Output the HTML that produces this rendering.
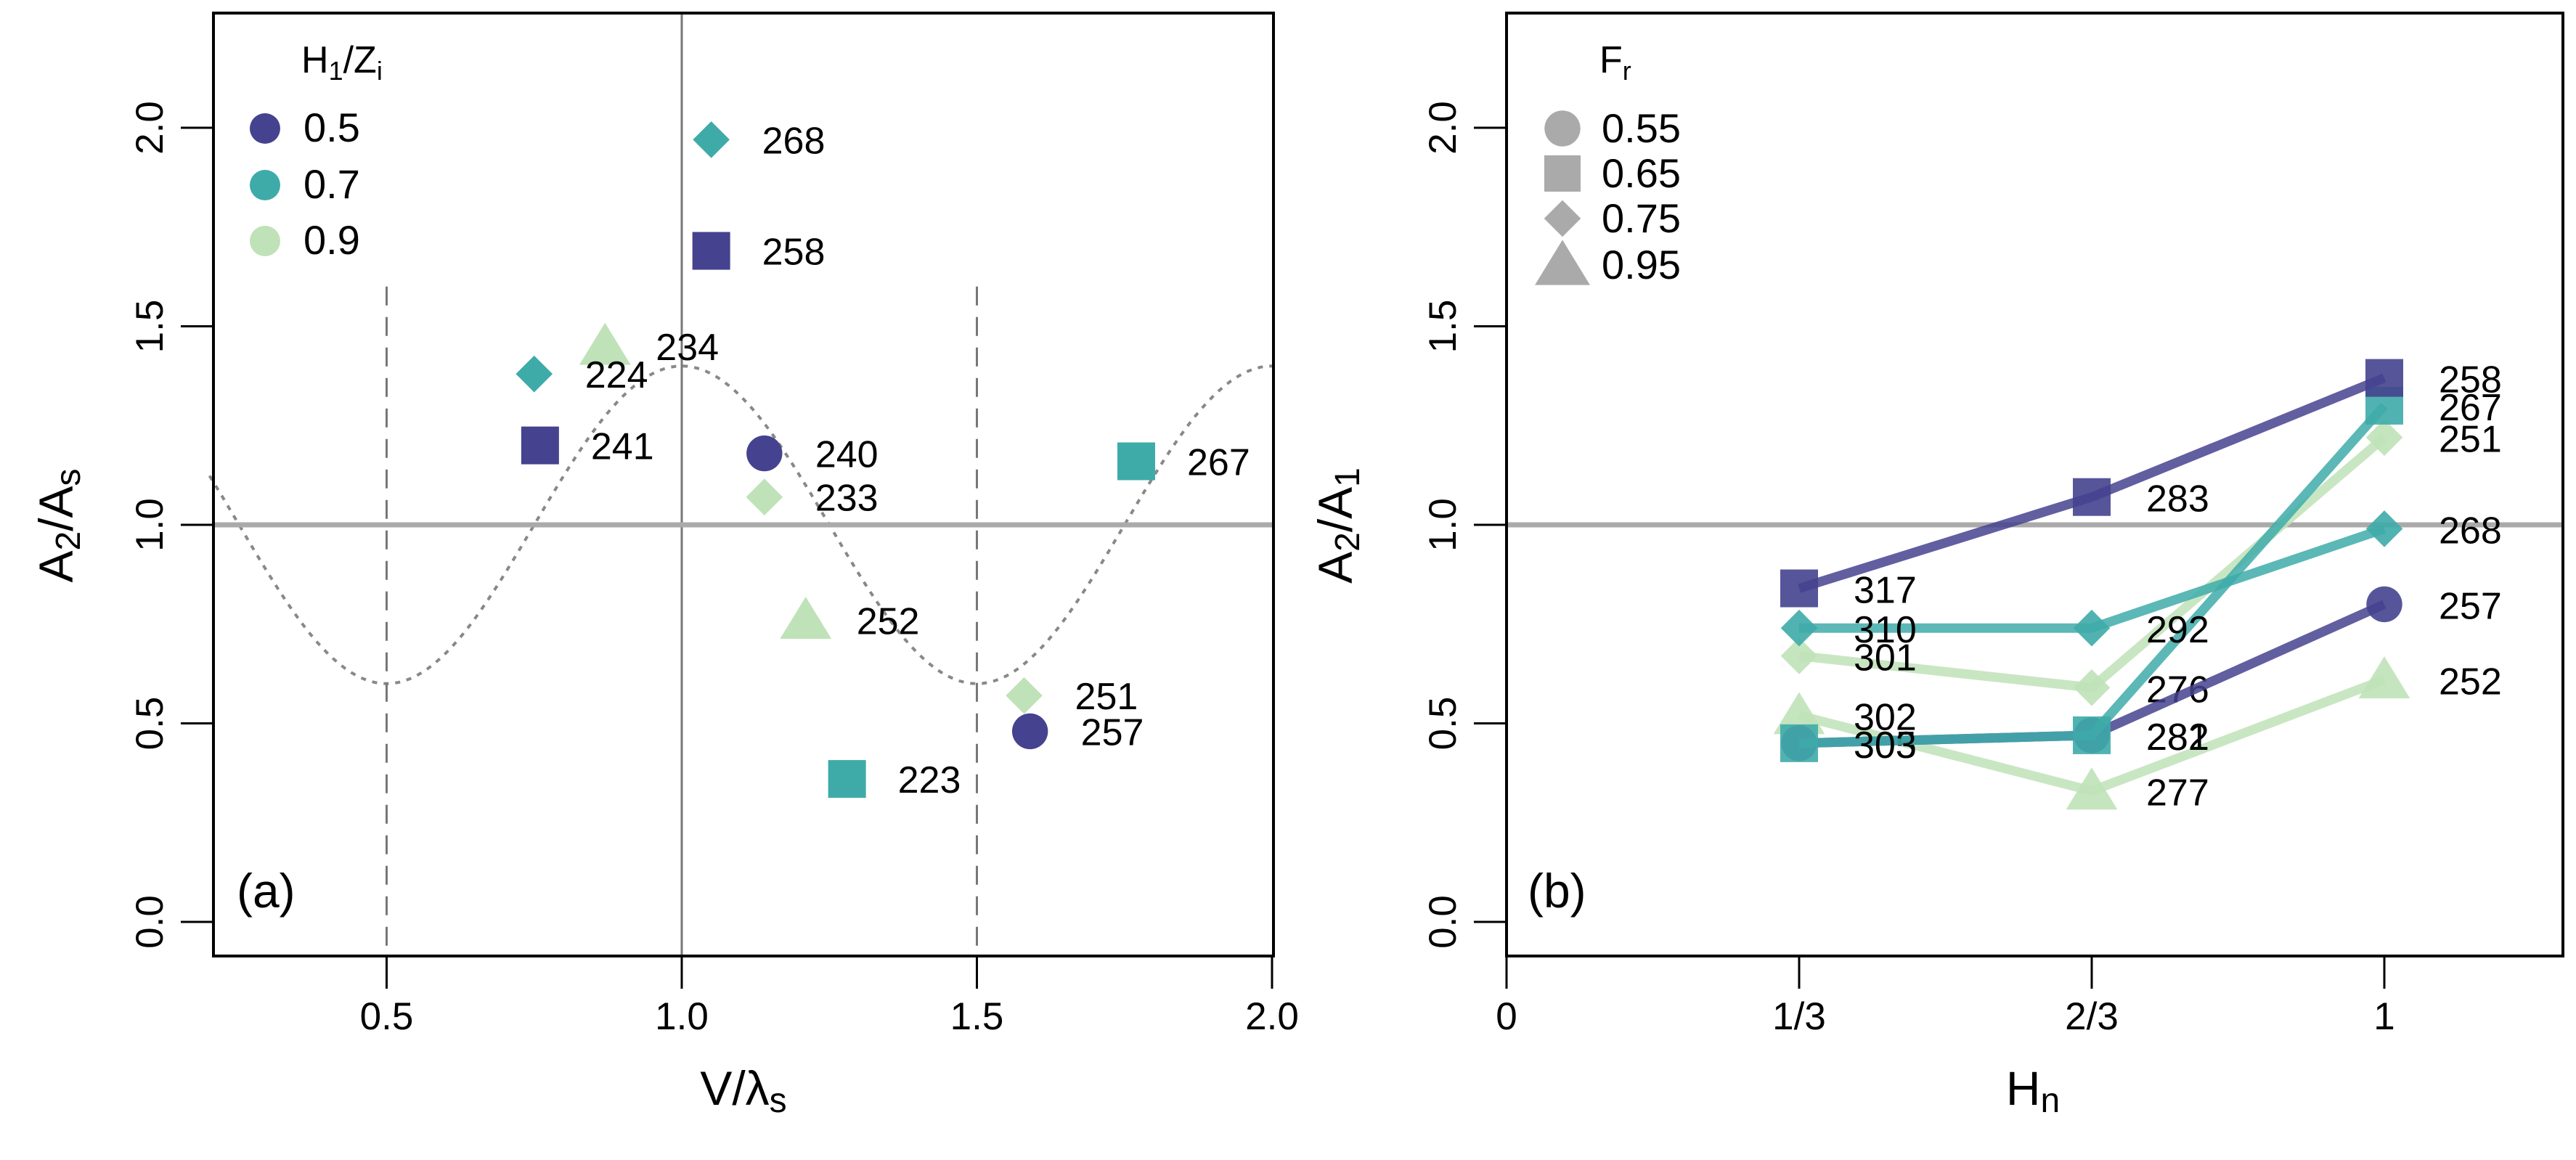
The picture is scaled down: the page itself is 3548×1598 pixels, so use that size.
<!DOCTYPE html>
<html><head><meta charset="utf-8"><style>
html,body{margin:0;padding:0;background:#fff}
svg{display:block;font-family:"Liberation Sans",Arial,sans-serif}
</style></head><body>
<svg id="fig" width="3548" height="1598" viewBox="0 0 3548 1598" xmlns="http://www.w3.org/2000/svg">
<g id="pa"></g>
<g id="pb"></g>
</svg>
<script>
// ---------- data ----------
const aX = [1.05, 1.05, 0.87, 0.75, 0.76, 1.14, 1.14, 1.77, 1.21, 1.58, 1.59, 1.28];
const aY = [1.97, 1.69, 1.45, 1.38, 1.20, 1.18, 1.07, 1.16, 0.76, 0.57, 0.48, 0.36];
const aLabels = ["268","258","234","224","241","240","233","267","252","251","257","223"];
const aShape = ["d","s","t","d","s","c","d","s","t","d","c","s"];
const aGroup = [1,0,2,1,0,0,2,1,2,2,0,1];
const xTicksA = [0.5, 1.0, 1.5, 2.0];
const xTickLabA = ["0.5","1.0","1.5","2.0"];
const yTicks = [0, 0.5, 1, 1.5, 2];
const yTickLab = ["0.0","0.5","1.0","1.5","2.0"];
const bX = [1/3, 2/3, 1];
const bXLab = ["0","1/3","2/3","1"];
const bNavySq = [0.84, 1.07, 1.37];
const bNavyCi = [0.45, 0.47, 0.80];
const bTealDi = [0.74, 0.74, 0.99];
const bTealSq = [0.45, 0.47, 1.30];
const bLightDi = [0.67, 0.59, 1.22];
const bLightTr = [0.52, 0.33, 0.61];
const bLabNavySq = ["317","283","258"];
const bLabNavyCi = ["305","281","257"];
const bLabTealDi = ["310","292","268"];
const bLabTealSq = ["303","282","267"];
const bLabLightDi = ["301","276","251"];
const bLabLightTr = ["302","277","252"];

const COLS = ["#45438f","#3eaba9","#bfe2b8"];
const NS = "http://www.w3.org/2000/svg";
function mk(parent, tag, attrs, txt){
  const e = document.createElementNS(NS, tag);
  for (const k in attrs) e.setAttribute(k, attrs[k]);
  if (txt !== undefined) e.textContent = txt;
  parent.appendChild(e); return e;
}
const TOPY = 18, BOTY = 1317;
const yS = v => 1270 - v*547;
const xA = v => 939 + (v-1)*813;
const xB = v => 2075 + v*1209;

function marker(g, shape, cx, cy, col, r, op){
  let e;
  if (shape==="c") e = mk(g,"circle",{cx:cx,cy:cy,r:r*0.95,fill:col});
  else if (shape==="s") e = mk(g,"rect",{x:cx-r,y:cy-r,width:2*r,height:2*r,fill:col});
  else if (shape==="d") { const d=r*1.15; e = mk(g,"polygon",{points:`${cx},${cy-d} ${cx+d},${cy} ${cx},${cy+d} ${cx-d},${cy}`,fill:col}); }
  else { const h=r*1.15; e = mk(g,"polygon",{points:`${cx},${cy-h} ${cx+h*1.1},${cy+h*0.8} ${cx-h*1.1},${cy+h*0.8}`,fill:col}); }
  if (op) e.setAttribute("fill-opacity", op);
  
  
  return e;
}
function yAxis(g, boxL){
  yTicks.forEach((t,i)=>{
    const y=yS(t);
    const l=mk(g,"line",{x1:boxL-45,y1:y,x2:boxL,y2:y,stroke:"#000","stroke-width":3});
    
    
    const tx=mk(g,"text",{x:boxL-70,y:y,"font-size":53,"text-anchor":"middle",transform:`rotate(-90 ${boxL-70} ${y})`},yTickLab[i]);
    
    
  });
}

// ---------- panel a ----------
(function(){
  const g=document.getElementById("pa");
  const L=294,R=1754;
  let d="";
  for(let x=0.2;x<=2.0001;x+=0.01){ d+=(d?"L":"M")+xA(x).toFixed(1)+","+yS(1+0.4*Math.cos(2*Math.PI*x)).toFixed(1); }
  const c=mk(g,"path",{d:d,fill:"none",stroke:"#888","stroke-width":4,"stroke-dasharray":"7 9"});
  
  
  [0.5,1.5].forEach(v=>{
    const l=mk(g,"line",{x1:xA(v),y1:yS(1.6),x2:xA(v),y2:BOTY,stroke:"#777","stroke-width":3,"stroke-dasharray":"26 16"});
    
    
  });
  const v1=mk(g,"line",{x1:xA(1),y1:TOPY,x2:xA(1),y2:BOTY,stroke:"#777","stroke-width":3});
  
  
  const h1=mk(g,"line",{x1:L,y1:yS(1),x2:R,y2:yS(1),stroke:"#aaa","stroke-width":7});
  
  
  aX.forEach((x,i)=>{
    const r = aShape[i]==="t"?28:(aShape[i]==="d"?22:26);
    marker(g,aShape[i],xA(x),yS(aY[i]),COLS[aGroup[i]],r);
    const t=mk(g,"text",{x:xA(x)+70,y:yS(aY[i])+19,"font-size":52},aLabels[i]);
    
    
  });
  const box=mk(g,"rect",{x:L,y:TOPY,width:R-L,height:BOTY-TOPY,fill:"none",stroke:"#000","stroke-width":4});
  
  
  yAxis(g,L);
  xTicksA.forEach((t,i)=>{
    const l=mk(g,"line",{x1:xA(t),y1:BOTY,x2:xA(t),y2:BOTY+45,stroke:"#000","stroke-width":3});
    
    
    const tx=mk(g,"text",{x:xA(t),y:1418,"font-size":53,"text-anchor":"middle"},xTickLabA[i]);
    
    
  });
  const xt=mk(g,"text",{x:1024,y:1522,"font-size":66,"text-anchor":"middle"});
  xt.innerHTML='V/λ<tspan font-size="48" dy="10">s</tspan>';
  
  
  const yt=mk(g,"text",{x:0,y:0,"font-size":66,"text-anchor":"middle",transform:"translate(100,724) rotate(-90)"});
  yt.innerHTML='A<tspan font-size="48" dy="10">2</tspan><tspan dy="-10">/A</tspan><tspan font-size="48" dy="10">s</tspan>';
  
  
  const pl=mk(g,"text",{x:326,y:1250,"font-size":66},"(a)");
  
  
  const lt=mk(g,"text",{x:415,y:100,"font-size":52});
  lt.innerHTML='H<tspan font-size="36" dy="10">1</tspan><tspan dy="-10">/Z</tspan><tspan font-size="36" dy="10">i</tspan>';
  
  
  ["0.5","0.7","0.9"].forEach((s,i)=>{
    const y=[195,273,350][i];
    const c=mk(g,"circle",{cx:365,cy:y-18,r:21,fill:COLS[i]});
    
    
    const t=mk(g,"text",{x:418,y:y,"font-size":56},s);
    
    
  });
})();

// ---------- panel b ----------
(function(){
  const g=document.getElementById("pb");
  const L=2075,R=3530;
  const h1=mk(g,"line",{x1:L,y1:yS(1),x2:R,y2:yS(1),stroke:"#aaa","stroke-width":7});
  
  
  const series=[
    [bLightTr,"t",2,bLabLightTr],[bLightDi,"d",2,bLabLightDi],
    [bNavyCi,"c",0,bLabNavyCi],[bTealSq,"s",1,bLabTealSq],
    [bTealDi,"d",1,bLabTealDi],[bNavySq,"s",0,bLabNavySq]
  ];
  series.forEach(([vals,sh,gi,labs])=>{
    const pts=vals.map((v,i)=>xB(bX[i])+","+yS(v)).join(" ");
    const pl=mk(g,"polyline",{points:pts,fill:"none",stroke:COLS[gi],"stroke-width":13,"stroke-opacity":0.85});
    
    
    vals.forEach((v,i)=>{
      marker(g,sh,xB(bX[i]),yS(v),COLS[gi],sh==="d"?22:(sh==="t"?28:26),0.9);
      const t=mk(g,"text",{x:xB(bX[i])+75,y:yS(v)+20,"font-size":52},labs[i]);
      
      
    });
  });
  const box=mk(g,"rect",{x:L,y:TOPY,width:R-L,height:BOTY-TOPY,fill:"none",stroke:"#000","stroke-width":4});
  
  
  yAxis(g,L);
  [0].concat(bX).forEach((t,i)=>{
    const l=mk(g,"line",{x1:xB(t),y1:BOTY,x2:xB(t),y2:BOTY+45,stroke:"#000","stroke-width":3});
    
    
    const tx=mk(g,"text",{x:xB(t),y:1418,"font-size":53,"text-anchor":"middle"},bXLab[i]);
    
    
  });
  const xt=mk(g,"text",{x:2800,y:1522,"font-size":66,"text-anchor":"middle"});
  xt.innerHTML='H<tspan font-size="48" dy="10">n</tspan>';
  
  
  const yt=mk(g,"text",{x:0,y:0,"font-size":66,"text-anchor":"middle",transform:"translate(1862,724) rotate(-90)"});
  yt.innerHTML='A<tspan font-size="48" dy="10">2</tspan><tspan dy="-10">/A</tspan><tspan font-size="48" dy="10">1</tspan>';
  
  
  const pl=mk(g,"text",{x:2104,y:1250,"font-size":66},"(b)");
  
  
  const lt=mk(g,"text",{x:2203,y:100,"font-size":52});
  lt.innerHTML='F<tspan font-size="36" dy="10">r</tspan>';
  
  
  ["0.55","0.65","0.75","0.95"].forEach((s,i)=>{
    const y=[196,258,320,384][i];
    marker(g,["c","s","d","t"][i],2152,y-19,"#aaaaaa",[26,25,22,30][i]);
    const t=mk(g,"text",{x:2206,y:y,"font-size":56},s);
    
    
  });
})();
</script>
</body></html>
